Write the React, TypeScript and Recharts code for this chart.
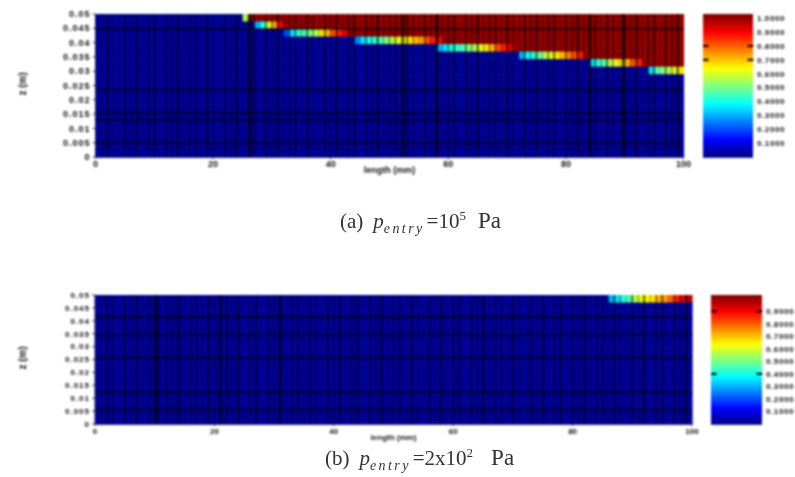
import React from 'react';
import { ScatterChart, Scatter, XAxis, YAxis, Label } from 'recharts';

const xTicks = [0, 20, 40, 60, 80, 100];
const yTicks = [0, 0.005, 0.01, 0.015, 0.02, 0.025, 0.03, 0.035, 0.04, 0.045, 0.05];
const barTicksA = [0.1, 0.2, 0.3, 0.4, 0.5, 0.6, 0.7, 0.8, 0.9, 1];
const barTicksB = [0.1, 0.2, 0.3, 0.4, 0.5, 0.6, 0.7, 0.8, 0.9];

// first column of the wet/dry front on each row, top row first
const frontStartA = [25, 27, 32, 44, 58, 72, 84, 94];
const frontValuesA = [
    [0.55],
    [0.3, 0.4, 0.58, 0.72, 0.88],
    [0.2, 0.35, 0.42, 0.45, 0.5, 0.55, 0.65, 0.7, 0.8, 0.85, 0.9],
    [0.25, 0.35, 0.4, 0.42, 0.45, 0.5, 0.55, 0.6, 0.62, 0.65, 0.7, 0.72, 0.8, 0.85, 0.88],
    [0.3, 0.35, 0.4, 0.42, 0.45, 0.5, 0.55, 0.6, 0.65, 0.7, 0.8, 0.85, 0.9],
    [0.3, 0.38, 0.42, 0.47, 0.55, 0.6, 0.65, 0.7, 0.75, 0.8, 0.85],
    [0.35, 0.42, 0.46, 0.55, 0.6, 0.65, 0.7, 0.8, 0.85],
    [0.35, 0.45, 0.5, 0.55, 0.6, 0.65],
];
const frontStartB = [86];
const frontValuesB = [
    [0.3, 0.35, 0.42, 0.45, 0.55, 0.6, 0.62, 0.65, 0.7, 0.72, 0.78, 0.85, 0.9, 0.95],
];

// the dark mesh lines that survive in the scan
const darkRowsA = [0.0448, 0.0234, 0.0154, 0.0129, 0.0049];
const darkColsA = [26.3, 52.3, 58.1, 84.1, 89.7];
const darkRowsB = [0.0415, 0.0345, 0.0256, 0.0124, 0.0054];
const darkColsB = [10.4, 21, 31];
const edgeWeights = [0.5, 0.25, 0.6, 0.35, 0.15, 0.55, 0.3, 0.65, 0.2, 0.45, 0.6, 0.1, 0.5, 0.35, 0.7, 0.25, 0.4];

const barLevels = [
    0.008, 0.024, 0.04, 0.056, 0.072, 0.089, 0.105, 0.121,
    0.137, 0.153, 0.169, 0.185, 0.201, 0.217, 0.233, 0.249,
    0.266, 0.282, 0.298, 0.314, 0.33, 0.346, 0.362, 0.378,
    0.394, 0.41, 0.427, 0.443, 0.459, 0.475, 0.491, 0.507,
    0.523, 0.539, 0.555, 0.571, 0.587, 0.604, 0.62, 0.636,
    0.652, 0.668, 0.684, 0.7, 0.716, 0.732, 0.748, 0.765,
    0.781, 0.797, 0.813, 0.829, 0.845, 0.861, 0.877, 0.893,
    0.909, 0.925, 0.942, 0.958, 0.974, 0.99, 1.006, 1.022,
];

const COLS = 100;
const BAR_TOP = 1.03;
const LOW = 0.025;
const HIGH = 0.985;

// matlab jet
const jet = (t: number) => {
    const ch = (d: number) => Math.round(255 * Math.max(0, Math.min(1, 1.5 - Math.abs(4 * t - d))));
    return `rgb(${ch(3)},${ch(2)},${ch(1)})`;
};

const buildCells = (starts: number[], values: number[][], rows: number) => {
    const cells: { x: number; y: number; v: number }[] = [];
    for (let r = 0; r < rows; r++) {
        for (let c = 0; c < COLS; c++) {
            let v = LOW;
            if (r < starts.length && c >= starts[r]) {
                const i = c - starts[r];
                v = i < values[r].length ? values[r][i] : HIGH;
            }
            cells.push({ x: c + 0.5, y: 0.05 * (1 - (r + 0.5) / rows), v });
        }
    }
    return cells;
};

const buildLines = (darkRows: number[], darkCols: number[]) => {
    const lines: { x: number; y: number; weight: number; dir: string }[] = [];
    for (let c = 1; c < COLS; c++) lines.push({ x: c, y: 0.025, weight: edgeWeights[c % edgeWeights.length], dir: 'v' });
    darkCols.forEach((x) => lines.push({ x, y: 0.025, weight: 0.8, dir: 'v' }));
    darkRows.forEach((y) => lines.push({ x: 50, y, weight: 0.8, dir: 'h' }));
    return lines;
};

const barCells = barLevels.map((y) => ({ x: 0.5, y, v: y / BAR_TOP }));

const tickStyle = { fill: '#111', fontFamily: 'Liberation Sans', fontWeight: 700 };

const Panel: React.FC<any> = ({ top, height, plotTop, plotW, plotH, left, cells, lines, rows, xLabel, yLabel, fontSize }) => {
    const w = plotW / COLS;
    const h = plotH / rows;
    return (
        <div style={{ position: 'absolute', left: 0, top }}>
            <ScatterChart width={left + plotW + 16} height={height} margin={{ top: plotTop, right: 16, bottom: 0, left: 0 }}>
                <XAxis type="number" dataKey="x" domain={[0, 100]} ticks={xTicks} interval={0} stroke="#334" tickSize={2}
                    height={height - plotTop - plotH} tick={{ ...tickStyle, fontSize }}>
                    <Label value={xLabel} position="insideBottom" offset={height - plotTop - plotH - 16} style={{ ...tickStyle, fontSize }} />
                </XAxis>
                <YAxis type="number" dataKey="y" domain={[0, 0.05]} ticks={yTicks} interval={0} stroke="#334" tickSize={3}
                    width={left} tick={{ ...tickStyle, fontSize, letterSpacing: 1 }}>
                    <Label value={yLabel} angle={-90} position="insideLeft" offset={22} dy={10} style={{ ...tickStyle, fontSize: 10 }} />
                </YAxis>
                <Scatter data={cells} isAnimationActive={false} shape={(p: any) => (
                    <rect x={p.cx - w / 2} y={p.cy - h / 2} width={w + 0.6} height={h + 0.6} fill={jet(p.payload.v)} />
                )} />
                <Scatter data={lines} isAnimationActive={false} shape={(p: any) => (
                    p.payload.dir === 'v'
                        ? <rect x={p.cx - 1} y={p.cy - plotH / 2} width={2} height={plotH} fill="#000" fillOpacity={p.payload.weight} />
                        : <rect x={p.cx - plotW / 2} y={p.cy - 0.75} width={plotW} height={1.5} fill="#000" fillOpacity={p.payload.weight} />
                )} />
            </ScatterChart>
        </div>
    );
};

const ColorBar: React.FC<any> = ({ top, left, height, plotTop, plotW, plotH, ticks, marks, fontSize }) => {
    const h = plotH / barLevels.length;
    const marksData = marks.flatMap((y: number) => [{ x: 0.05, y }, { x: 0.95, y }]);
    return (
        <div style={{ position: 'absolute', left, top }}>
            <ScatterChart width={plotW + 44} height={height} margin={{ top: plotTop, right: 0, bottom: height - plotTop - plotH, left: 0 }}>
                <XAxis type="number" dataKey="x" domain={[0, 1]} hide />
                <YAxis type="number" dataKey="y" orientation="right" domain={[0, BAR_TOP]} ticks={ticks} interval={0} width={44}
                    axisLine={false} tickLine={false} tickSize={0} tickMargin={4} tickFormatter={(v: number) => v.toFixed(4)}
                    tick={{ ...tickStyle, fontSize, letterSpacing: 0.6 }} />
                <Scatter data={barCells} isAnimationActive={false} shape={(p: any) => (
                    <rect x={p.cx - plotW / 2} y={p.cy - h / 2} width={plotW} height={h + 0.8} fill={jet(p.payload.v)} />
                )} />
                <Scatter data={marksData} isAnimationActive={false} shape={(p: any) => (
                    <rect x={p.cx - 3} y={p.cy - 1} width={6} height={2} fill="#000" />
                )} />
            </ScatterChart>
        </div>
    );
};

const Caption: React.FC<any> = ({ left, top, tag, value, exp, gap }) => (
    <div style={{ position: 'absolute', left, top, whiteSpace: 'nowrap', fontFamily: 'Liberation Serif', fontSize: 21, color: '#333', filter: 'blur(0.5px)' }}>
        ({tag})
        <i style={{ marginLeft: 10 }}>p</i>
        <sub style={{ fontSize: 14, letterSpacing: 2.4 }}><i>entry</i></sub>
        <span style={{ marginLeft: 2 }}>={value}</span>
        <sup style={{ fontSize: 13 }}>{exp}</sup>
        <span style={{ marginLeft: gap, fontSize: 23 }}>Pa</span>
    </div>
);

export default function App() {
    return (
        <div style={{ position: 'absolute', left: 0, top: 0, width: 795, height: 477, overflow: 'hidden', background: '#fff' }}>
            <div style={{ filter: 'blur(0.8px)' }}>
                <Panel top={0} height={190} plotTop={14} plotW={588} plotH={143} left={95.5} rows={19}
                    cells={buildCells(frontStartA, frontValuesA, 19)} lines={buildLines(darkRowsA, darkColsA)}
                    xLabel="length (mm)" yLabel="z (m)" fontSize={9} />
                <ColorBar top={0} left={703} height={190} plotTop={14} plotW={50} plotH={143} ticks={barTicksA} marks={[0.8, 0.7]} fontSize={8} />
                <Panel top={285} height={170} plotTop={10} plotW={597} plotH={129} left={95} rows={17}
                    cells={buildCells(frontStartB, frontValuesB, 17)} lines={buildLines(darkRowsB, darkColsB)}
                    xLabel="length (mm)" yLabel="z (m)" fontSize={8} />
                <ColorBar top={285} left={711} height={170} plotTop={10} plotW={51} plotH={129} ticks={barTicksB} marks={[0.9, 0.4]} fontSize={8} />
            </div>
            <Caption left={340} top={208} tag="a" value="10" exp="5" gap={12} />
            <Caption left={325} top={445} tag="b" value="2x10" exp="2" gap={18} />
        </div>
    );
}
